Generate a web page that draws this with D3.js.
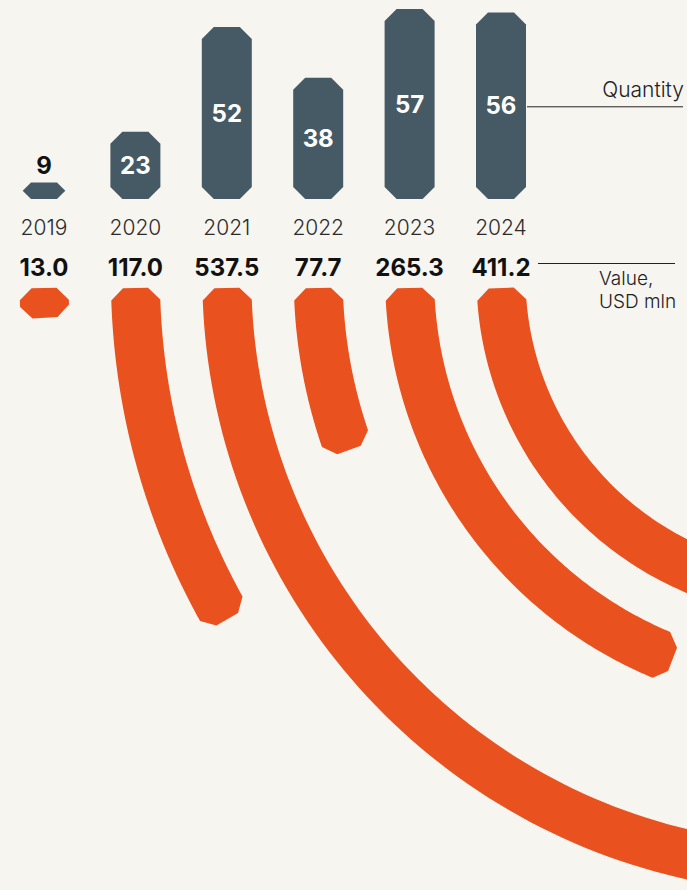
<!DOCTYPE html>
<html>
<head>
<meta charset="utf-8">
<script src="https://cdn.jsdelivr.net/npm/d3@7"></script>
<style>
  html, body { margin: 0; padding: 0; background: #f7f5f0; }
  svg { display: block; }
  text { font-family: Inter, "Noto Sans", sans-serif; }
</style>
</head>
<body>
<svg id="chart" width="687" height="890"></svg>
<script>
// ---- data ----
const years = ["2019", "2020", "2021", "2022", "2023", "2024"];
const quantity = [9, 23, 52, 38, 57, 56];
const valueUSD = [13.0, 117.0, 537.5, 77.7, 265.3, 411.2];
const valueLabels = ["13.0", "117.0", "537.5", "77.7", "265.3", "411.2"];
const legendQuantity = "Quantity";
const legendValue = ["Value,", "USD mln"];

// ---- layout ----
const W = 687, H = 890;
const svg = d3.select("#chart");
svg.append("rect").attr("width", W).attr("height", H).attr("fill", "#f7f5f0");

const barColor = "#465a66";
const arcColor = "#e9511f";
const barW = 50, chamfer = 12;

const x = d3.scalePoint().domain(years).range([44, 501]);
const yQ = d3.scaleLinear().domain([4.4, 57]).range([199, 9]);
const baseY = 199;

// chamfered bar path
function barPath(cx, top, bottom) {
  const h = bottom - top;
  const c = Math.min(chamfer, h / 2);
  const w = h < 2 * chamfer ? barW - (2 * chamfer - h) : barW;
  const l = cx - w / 2, r = cx + w / 2;
  return d3.line()([
    [l + c, top], [r - c, top], [r, top + c], [r, bottom - c],
    [r - c, bottom], [l + c, bottom], [l, bottom - c], [l, top + c]
  ]) + "Z";
}

const bars = svg.append("g");
years.forEach((yr, i) => {
  const cx = x(yr);
  const top = yQ(quantity[i]);
  bars.append("path").attr("d", barPath(cx, top, baseY)).attr("fill", barColor);
  const inside = (baseY - top) > 40;
  bars.append("text")
    .attr("x", cx)
    .attr("y", inside ? (top + baseY) / 2 : top - 8)
    .attr("dy", inside ? "0.36em" : "0")
    .attr("text-anchor", "middle")
    .attr("font-size", 24)
    .attr("font-weight", 700)
    .attr("fill", inside ? "#ffffff" : "#111111")
    .text(quantity[i]);
  // year label
  svg.append("text")
    .attr("x", cx).attr("y", 235)
    .attr("text-anchor", "middle")
    .attr("font-size", 21)
    .attr("font-weight", 300)
    .attr("fill", "#2b2b2b")
    .text(yr);
  // value label
  svg.append("text")
    .attr("x", cx).attr("y", 276)
    .attr("text-anchor", "middle")
    .attr("font-size", 24)
    .attr("font-weight", 700)
    .attr("fill", "#111111")
    .text(valueLabels[i]);
});

// ---- arcs (value) ----
const cxA = 819, cyA = 277, arcTop = 288, halfW = 24.5;
const angle = d3.scaleLinear().domain([4.5, 265.3]).range([0, 67.5 * Math.PI / 180]);
const P = (r, phi) => [cxA - r * Math.cos(phi), cyA + r * Math.sin(phi)];

function arcPath(cx, v) {
  const R = cxA - cx;
  const Ro = R + halfW, Ri = R - halfW;
  const phi0 = Math.asin((arcTop - cyA) / R);
  const phi1 = phi0 + angle(v);
  const c = Math.min(chamfer, (phi1 - phi0) * Ri / 2);
  const pts = [];
  const n = 120;
  const a0 = phi0 + c / Ro, a1 = phi1 - c / Ro;
  for (let k = 0; k <= n; k++) pts.push(P(Ro, a0 + (a1 - a0) * k / n));
  pts.push(P(Ro - c, phi1));
  pts.push(P(Ri + c, phi1));
  const b0 = phi1 - c / Ri, b1 = phi0 + c / Ri;
  for (let k = 0; k <= n; k++) pts.push(P(Ri, b0 + (b1 - b0) * k / n));
  pts.push(P(Ri + c, phi0));
  pts.push(P(Ro - c, phi0));
  return d3.line()(pts) + "Z";
}

const arcs = svg.append("g");
years.forEach((yr, i) => {
  arcs.append("path").attr("d", arcPath(x(yr), valueUSD[i])).attr("fill", arcColor);
});

// ---- legend ----
const lastX = x(years[years.length - 1]);
const midBar = (yQ(quantity[5]) + baseY) / 2;
svg.append("line")
  .attr("x1", lastX + barW / 2 + 1).attr("x2", 683)
  .attr("y1", midBar + 1).attr("y2", midBar + 1)
  .attr("stroke", "#222").attr("stroke-width", 1);
svg.append("text")
  .attr("x", 684).attr("y", 97)
  .attr("text-anchor", "end")
  .attr("font-size", 21).attr("font-weight", 300).attr("fill", "#222")
  .text(legendQuantity);

svg.append("line")
  .attr("x1", 538).attr("x2", 675)
  .attr("y1", 263.5).attr("y2", 263.5)
  .attr("stroke", "#222").attr("stroke-width", 1);
legendValue.forEach((t, k) => {
  svg.append("text")
    .attr("x", 599).attr("y", 285 + k * 23)
    .attr("font-size", 19).attr("font-weight", 300).attr("fill", "#222")
    .text(t);
});
</script>
</body>
</html>
